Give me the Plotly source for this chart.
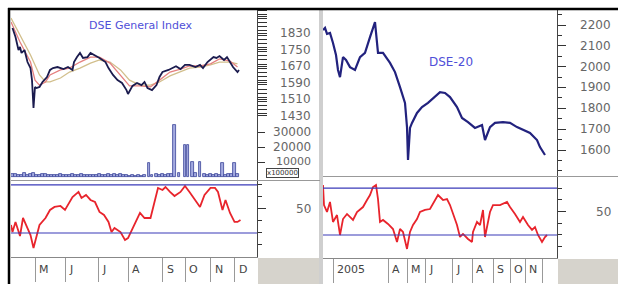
import plotly.graph_objects as go

W, H = 618, 284

# ---------------- Left panel: DSE General Index ----------------
gi_days = [1, 3, 5, 6, 7, 9, 11, 13, 14, 15, 16, 17, 19, 21, 24, 26, 28, 31, 35, 38, 41, 42, 44, 46, 48,
           51, 53, 56, 59, 63, 65, 68, 71, 74, 77, 78, 81, 84, 87, 89, 91, 94, 97, 99, 101, 105, 108,
           110, 113, 116, 119, 123, 126, 128, 131, 135, 137, 139, 142, 144, 146, 148, 151, 152]
gi_close = [1854, 1811, 1748, 1763, 1734, 1748, 1690, 1661, 1603, 1469, 1570, 1565, 1570, 1594, 1618,
            1652, 1661, 1666, 1656, 1666, 1652, 1690, 1714, 1734, 1710, 1714, 1734, 1724, 1710, 1690,
            1661, 1628, 1603, 1589, 1555, 1536, 1575, 1589, 1579, 1594, 1565, 1555, 1579, 1618, 1642,
            1652, 1661, 1670, 1656, 1676, 1676, 1666, 1676, 1661, 1690, 1714, 1710, 1719, 1700, 1714,
            1690, 1666, 1642, 1652]

ma_days = [0, 6, 13, 16, 19, 23, 26, 33, 39, 46, 53, 59, 66, 73, 79, 86, 93, 99, 106, 113, 119, 126,
           133, 139, 146, 151]
ma_fast = [1883, 1787, 1690, 1603, 1579, 1594, 1628, 1652, 1661, 1690, 1714, 1714, 1685, 1623, 1575,
           1575, 1570, 1603, 1642, 1656, 1671, 1671, 1681, 1705, 1695, 1666]
ma_slow_days = [0, 6, 13, 19, 23, 26, 33, 39, 46, 53, 59, 66, 73, 79, 86, 93, 99, 106, 113, 119, 126,
                133, 139, 146, 151]
ma_slow = [1902, 1820, 1724, 1628, 1594, 1594, 1613, 1642, 1661, 1685, 1700, 1690, 1652, 1603, 1579,
           1579, 1594, 1623, 1642, 1661, 1666, 1676, 1690, 1690, 1681]

vol_days = [1, 3, 5, 7, 9, 11, 13, 15, 17, 19, 21, 23, 25, 27, 29, 31, 33, 35, 37, 39, 41, 43, 45, 47,
            49, 51, 53, 55, 57, 59, 61, 63, 65, 67, 69, 71, 73, 75, 77, 79, 81, 83, 85, 87, 89, 92,
            94, 97, 99, 101, 103, 105, 107, 109, 112, 116, 118, 121, 123, 126, 129, 131, 133, 135,
            137, 139, 141, 143, 145, 147, 149, 151]
vol_vals = [1800, 2200, 1500, 1200, 2600, 1400, 1900, 2400, 1300, 1100, 1700, 2000, 1400, 1200, 1600,
            1300, 1800, 1500, 1100, 1400, 1700, 1200, 1500, 1900, 1300, 1100, 1600, 1400, 1200, 1800,
            1500, 1300, 2100, 1400, 1700, 1200, 1900, 1300, 1100, 900, 1200, 1000, 1400, 800, 1100,
            9300, 1500, 2000, 1600, 1800, 1500, 2200, 1900, 34700, 2400, 21300, 21300, 10000, 2600,
            10000, 1800, 1500, 1700, 1400, 2000, 1600, 9300, 1500, 1800, 2200, 9300, 1700]

rsi_l_days = [0, 1, 3, 5, 6, 8, 11, 13, 15, 17, 19, 23, 26, 29, 33, 36, 39, 41, 45, 47, 50, 53, 56,
              59, 62, 65, 67, 69, 73, 76, 78, 81, 83, 86, 89, 93, 96, 98, 101, 103, 106, 109, 113,
              116, 119, 123, 126, 129, 133, 136, 138, 141, 143, 146, 149, 151, 153]
rsi_l = [36.7, 30.8, 39.2, 30.0, 27.5, 42.5, 34.2, 28.3, 17.5, 28.3, 36.7, 42.5, 49.2, 51.7, 52.5,
         49.2, 55.0, 60.0, 64.2, 59.2, 61.7, 57.5, 55.8, 47.5, 45.0, 39.2, 30.8, 34.2, 30.8, 24.2,
         25.8, 34.2, 39.2, 46.7, 42.5, 42.5, 57.5, 67.5, 65.8, 68.3, 64.2, 60.8, 64.2, 69.2, 64.2,
         57.5, 51.7, 61.7, 67.5, 67.5, 64.2, 49.2, 57.5, 46.7, 39.2, 39.2, 40.8]

left_price_ticks = [1830, 1750, 1670, 1590, 1510, 1430]
left_vol_ticks = [30000, 20000, 10000]
left_month_bounds = [16, 36, 58, 78, 101, 116, 133, 149]
left_month_labels = ["M", "J", "J", "A", "S", "O", "N", "D"]

# ---------------- Right panel: DSE-20 ----------------
d20_days = [0, 2, 4, 7, 10, 13, 15, 17, 20, 23, 27, 32, 37, 42, 47, 52, 55, 60, 67, 72, 77, 82, 84,
            85, 87, 89, 94, 99, 105, 112, 117, 122, 127, 134, 139, 145, 152, 159, 162, 167, 172,
            180, 187, 194, 200, 207, 214, 217, 222]
d20_close = [2176, 2186, 2157, 2162, 2114, 2056, 1984, 1950, 2046, 2032, 1998, 1984, 2046, 2066, 2142,
             2214, 2066, 2066, 2018, 1974, 1902, 1826, 1710, 1552, 1706, 1730, 1778, 1806, 1826, 1854,
             1878, 1874, 1854, 1806, 1754, 1734, 1706, 1720, 1648, 1710, 1730, 1734, 1730, 1710, 1696,
             1682, 1648, 1614, 1576]

rsi_r_days = [0, 1, 4, 7, 10, 14, 17, 20, 24, 27, 30, 34, 37, 40, 44, 47, 50, 53, 55, 57, 60, 65, 70,
              74, 77, 80, 84, 87, 90, 94, 97, 102, 107, 112, 115, 120, 124, 127, 130, 134, 137, 140,
              145, 149, 150, 154, 157, 160, 162, 167, 170, 177, 184, 187, 192, 197, 200, 205, 209,
              212, 215, 219, 222, 224]
rsi_r = [72.6, 55.5, 49.6, 58.1, 41.1, 47.0, 30.0, 43.6, 47.9, 45.3, 42.8, 49.6, 52.1, 53.8, 59.8,
         64.0, 70.9, 72.6, 60.6, 41.1, 42.8, 39.4, 35.1, 24.0, 35.1, 32.6, 18.1, 32.6, 38.5, 43.6,
         49.6, 51.3, 52.1, 59.8, 64.0, 59.8, 60.6, 55.5, 47.9, 38.5, 28.3, 30.9, 26.6, 24.0, 32.6,
         41.1, 38.5, 51.3, 28.3, 49.6, 55.5, 55.5, 58.1, 53.8, 47.9, 41.1, 45.3, 38.5, 34.3, 36.8,
         30.0, 24.0, 28.3, 30.0]

right_price_ticks = [2200, 2100, 2000, 1900, 1800, 1700, 1600]
right_month_bounds = [10, 65, 84, 102, 129, 149, 170, 187, 202, 219]
right_month_labels = ["2005", "A", "M", "J", "J", "A", "S", "O", "N"]

rsi_levels = [70, 30]
rsi_label = [50]


def py(px):
    return 1 - px / H


def pxx(px):
    return px / W


LX = [pxx(11), pxx(257)]
RX = [pxx(323), pxx(557)]

fig = go.Figure()

NAVY = "#1b1b4e"
RED = "#e8242c"
BLUE = "#3a3ab8"

# left traces
fig.add_trace(go.Scatter(x=ma_slow_days, y=ma_slow, mode="lines", line=dict(color="#d2bf8c", width=1.3),
                         xaxis="x", yaxis="y", hoverinfo="skip"))
fig.add_trace(go.Scatter(x=ma_days, y=ma_fast, mode="lines", line=dict(color="#e58080", width=1.3),
                         xaxis="x", yaxis="y", hoverinfo="skip"))
fig.add_trace(go.Scatter(x=gi_days, y=gi_close, mode="lines", line=dict(color=NAVY, width=1.8),
                         xaxis="x", yaxis="y"))
fig.add_trace(go.Bar(x=vol_days, y=vol_vals, width=1.6,
                     marker=dict(color="#a4aae0", line=dict(color="#3a4398", width=0.8)),
                     xaxis="x2", yaxis="y2"))
fig.add_trace(go.Scatter(x=rsi_l_days, y=rsi_l, mode="lines", line=dict(color=RED, width=1.8),
                         xaxis="x3", yaxis="y3"))
# right traces
fig.add_trace(go.Scatter(x=d20_days, y=d20_close, mode="lines", line=dict(color="#22227e", width=2.2),
                         xaxis="x4", yaxis="y4"))
fig.add_trace(go.Scatter(x=rsi_r_days, y=rsi_r, mode="lines", line=dict(color=RED, width=1.8),
                         xaxis="x5", yaxis="y5"))

noax = dict(visible=False, showgrid=False, zeroline=False)
yax = dict(side="right", showline=True, linecolor="#444", linewidth=1, showgrid=False, zeroline=False,
           showticklabels=False, ticks="outside", tickcolor="#333")

fig.update_layout(
    width=W, height=H, margin=dict(l=0, r=0, t=0, b=0),
    paper_bgcolor="white", plot_bgcolor="white", showlegend=False, bargap=0,
    font=dict(family="DejaVu Sans", size=11, color="#555"),
    xaxis=dict(domain=LX, range=[0, 164], anchor="y", **noax),
    xaxis2=dict(domain=LX, range=[0, 164], anchor="y2", **noax),
    xaxis3=dict(domain=LX, range=[0, 164], anchor="y3", showgrid=False, zeroline=False,
                showline=True, linecolor="#888", ticks="outside", tickmode="array",
                tickvals=left_month_bounds, ticklen=24, tickcolor="#999", showticklabels=False),
    xaxis4=dict(domain=RX, range=[0, 234], anchor="y4", **noax),
    xaxis5=dict(domain=RX, range=[0, 234], anchor="y5", showgrid=False, zeroline=False,
                showline=True, linecolor="#888", ticks="outside", tickmode="array",
                tickvals=right_month_bounds, ticklen=24, tickcolor="#999", showticklabels=False),
    yaxis=dict(domain=[py(118), py(10)], range=[1420.3, 1941], anchor="x", tickmode="linear",
               tick0=1430, dtick=80, ticklen=9,
               minor=dict(ticks="outside", dtick=20, ticklen=9, tickcolor="#333"), **yax),
    yaxis2=dict(domain=[py(180), py(118)], range=[-2000, 39333], anchor="x2", tickmode="array",
                tickvals=left_vol_ticks, ticklen=7, **yax),
    yaxis3=dict(domain=[py(257), py(181)], range=[10, 73.3], anchor="x3", tickmode="array",
                tickvals=rsi_label, ticklen=8,
                minor=dict(ticks="outside", tickmode="array", tickvals=[20, 30, 40, 60, 70], ticklen=4,
                           tickcolor="#333"), **yax),
    yaxis4=dict(domain=[py(176), py(10)], range=[1475.2, 2272], anchor="x4", tickmode="array",
                tickvals=right_price_ticks, ticklen=8,
                minor=dict(ticks="outside", dtick=50, ticklen=4, tickcolor="#333"), **yax),
    yaxis5=dict(domain=[py(258), py(177)], range=[10.4, 79.4], anchor="x5", tickmode="array",
                tickvals=rsi_label, ticklen=8,
                minor=dict(ticks="outside", tickmode="array", tickvals=[20, 30, 40, 60, 70], ticklen=4,
                           tickcolor="#333"), **yax),
)

shapes = []
# RSI reference lines
for lv in rsi_levels:
    shapes.append(dict(type="line", xref="x3 domain", x0=0, x1=1, yref="y3", y0=lv, y1=lv,
                       line=dict(color=BLUE, width=1.2)))
    shapes.append(dict(type="line", xref="x5 domain", x0=0, x1=1, yref="y5", y0=lv, y1=lv,
                       line=dict(color=BLUE, width=1.2)))
# grey filler areas
shapes.append(dict(type="rect", xref="paper", yref="paper", x0=pxx(258), x1=pxx(320), y0=0, y1=py(258),
                   fillcolor="#d6d3cc", line=dict(width=0), layer="below"))
shapes.append(dict(type="rect", xref="paper", yref="paper", x0=pxx(558), x1=1, y0=0, y1=py(259),
                   fillcolor="#d6d3cc", line=dict(width=0), layer="below"))
shapes.append(dict(type="rect", xref="paper", yref="paper", x0=pxx(319), x1=pxx(323), y0=0, y1=py(10),
                   fillcolor="#cfcfcf", line=dict(width=0)))
# panel separators
shapes.append(dict(type="line", xref="paper", yref="paper", x0=pxx(11), x1=pxx(320), y0=py(180.5), y1=py(180.5),
                   line=dict(color="#999", width=1)))
shapes.append(dict(type="line", xref="paper", yref="paper", x0=pxx(323), x1=1, y0=py(176.5), y1=py(176.5),
                   line=dict(color="#999", width=1)))
# outer black border
shapes.append(dict(type="line", xref="paper", yref="paper", x0=pxx(8), x1=1, y0=py(9), y1=py(9),
                   line=dict(color="black", width=2.5)))
shapes.append(dict(type="line", xref="paper", yref="paper", x0=pxx(9), x1=pxx(9), y0=0, y1=py(8),
                   line=dict(color="black", width=2.5)))
fig.update_layout(shapes=shapes)

ann = []
lab_font = dict(family="DejaVu Sans", size=12, color="#666")
for v in left_price_ticks:
    ann.append(dict(xref="paper", x=pxx(313), xanchor="right", yref="y", y=v, yanchor="middle",
                    text=str(v), showarrow=False, font=lab_font))
for v in left_vol_ticks[:2]:
    ann.append(dict(xref="paper", x=pxx(313), xanchor="right", yref="y2", y=v, yanchor="middle",
                    text=str(v), showarrow=False, font=lab_font))
ann.append(dict(xref="paper", x=pxx(313), xanchor="right", yref="y2", y=left_vol_ticks[2], yanchor="middle",
                yshift=1, text=str(left_vol_ticks[2]), showarrow=False,
                font=dict(family="DejaVu Sans", size=11, color="#666")))
ann.append(dict(xref="paper", x=pxx(282), xanchor="center", yref="paper", y=py(172.5), yanchor="middle",
                text="x100000", showarrow=False, font=dict(family="DejaVu Sans", size=7, color="#333"),
                bgcolor="white", bordercolor="#444", borderwidth=1, borderpad=0))
for v in rsi_label:
    ann.append(dict(xref="paper", x=pxx(313), xanchor="right", yref="y3", y=v, yanchor="middle",
                    text=str(v), showarrow=False, font=lab_font))
    ann.append(dict(xref="paper", x=pxx(613), xanchor="right", yref="y5", y=v, yanchor="middle",
                    text=str(v), showarrow=False, font=lab_font))
for v in right_price_ticks:
    ann.append(dict(xref="paper", x=pxx(613), xanchor="right", yref="y4", y=v, yanchor="middle",
                    text=str(v), showarrow=False, font=lab_font))
mfont = dict(family="DejaVu Sans", size=11, color="#444")
for b, t in zip(left_month_bounds, left_month_labels):
    ann.append(dict(xref="x3", x=b, xanchor="left", xshift=2, yref="paper", y=py(269), yanchor="middle",
                    text=t, showarrow=False, font=mfont))
for b, t in zip(right_month_bounds, right_month_labels):
    ann.append(dict(xref="x5", x=b, xanchor="left", xshift=2, yref="paper", y=py(269), yanchor="middle",
                    text=t, showarrow=False, font=mfont))
ann.append(dict(xref="paper", x=pxx(141), xanchor="center", yref="paper", y=py(25), yanchor="middle",
                text="DSE General Index", showarrow=False,
                font=dict(family="DejaVu Sans", size=11, color="#4f4fd8")))
ann.append(dict(xref="paper", x=pxx(451), xanchor="center", yref="paper", y=py(62), yanchor="middle",
                text="DSE-20", showarrow=False,
                font=dict(family="DejaVu Sans", size=12, color="#4f4fd8")))
fig.update_layout(annotations=ann)

fig.write_html("out.html", config={"displayModeBar": False},
               post_script="document.body.style.margin='0px';document.body.style.overflow='hidden';")
